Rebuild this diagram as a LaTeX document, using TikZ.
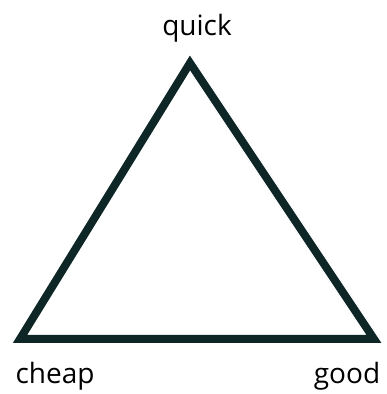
\documentclass[tikz,border=0pt]{standalone}
\usepackage{fontspec}
\setmainfont{Open Sans}
\usepackage{tikz}
\usetikzlibrary{positioning}
\definecolor{EdgeDark}{RGB}{14,38,38}

\tikzset{
  corner/.style={font=\fontsize{28}{34}\selectfont,text=black,inner sep=0pt,anchor=base},
  side/.style={draw=EdgeDark,line width=8pt,line join=miter}
}

\begin{document}
\begin{tikzpicture}[x=1pt,y=1pt]
  \useasboundingbox (0,0) rectangle (386,394);
  % corners of the triangle
  \coordinate (top) at (190,331);
  \coordinate (left) at (20,55);
  \coordinate (right) at (374,55);
  \draw[side] (top) -- (left) -- (right) -- cycle;
  % labels
  \node[corner] (quick) at (197,358) {quick};
  \node[corner] (cheap) at (55,10) {cheap};
  \node[corner] (good) at (347,10) {good};
\end{tikzpicture}
\end{document}
